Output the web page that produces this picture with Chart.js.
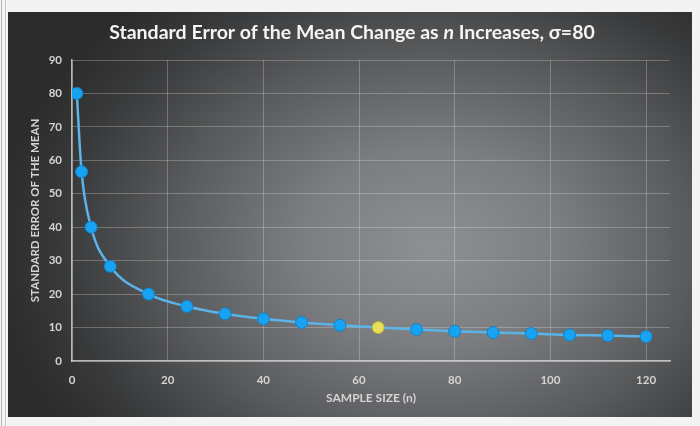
<!DOCTYPE html>
<html>
<head>
<meta charset="utf-8">
<script src="https://cdn.jsdelivr.net/npm/chart.js@4"></script>
<style>
  html, body { margin: 0; padding: 0; width: 700px; height: 426px; overflow: hidden; background: #f3f3f3; }
  #frame { position: absolute; left: 1px; top: 0; width: 3px; height: 426px; border-left: 1px solid #b8b8b8; border-right: 1px solid #c8c8c8; }
  #panel {
    position: absolute; left: 8px; top: 12px; width: 684px; height: 405px;
    background:
      radial-gradient(ellipse 64% 80% at 62% 58%, #8e9194 0%, #7b7d80 30%, #585a5c 60%, #38393a 85%, #2c2c2c 100%);
  }
  canvas { display: block; }
</style>
</head>
<body>
<div id="frame"></div>
<div id="panel"><canvas id="c" width="684" height="405"></canvas></div>
<script>
// ---- data ----
const sampleSizes = [1, 2, 4, 8, 16, 24, 32, 40, 48, 56, 64, 72, 80, 88, 96, 104, 112, 120];
const standardErrors = [80, 56.6, 40, 28.3, 20, 16.3, 14.1, 12.6, 11.5, 10.7, 10, 9.4, 8.9, 8.5, 8.2, 7.8, 7.6, 7.3];
const highlightedN = 64;
const titleParts = [
  { text: "Standard Error of the Mean Change as ", italic: false },
  { text: "n", italic: true },
  { text: " Increases, \u03c3=80", italic: false }
];
const xAxisTitle = "SAMPLE SIZE (n)";
const yAxisTitle = "STANDARD ERROR OF THE MEAN";

const points = sampleSizes.map((n, i) => ({ x: n, y: standardErrors[i] }));
const pointFill = sampleSizes.map(n => n === highlightedN ? "#e6df5a" : "#18a2f2");
const pointBorder = sampleSizes.map(n => n === highlightedN ? "#b9b23a" : "#0f84c8");

const titlePlugin = {
  id: "mixedTitle",
  afterDraw(chart) {
    const ctx = chart.ctx;
    ctx.save();
    ctx.fillStyle = "#f4f4f4";
    ctx.textBaseline = "middle";
    const fam = "Lato, 'Open Sans', sans-serif";
    const fonts = titleParts.map(p => (p.italic ? "italic " : "") + "bold 19.5px " + fam);
    let total = 0;
    const widths = titleParts.map((p, i) => { ctx.font = fonts[i]; const w = ctx.measureText(p.text).width; total += w; return w; });
    let x = chart.width / 2 - total / 2 + 2;
    titleParts.forEach((p, i) => {
      ctx.font = fonts[i];
      ctx.fillText(p.text, x, 21);
      x += widths[i];
    });
    ctx.restore();
  }
};

const tickColor = "#d4d4d4";
const gridColor = "rgba(235,235,235,0.28)";
const labelFont = { family: "Lato, sans-serif", size: 11.5, weight: "bold" };

new Chart(document.getElementById("c"), {
  type: "line",
  data: {
    datasets: [{
      data: points,
      borderColor: "#5cb3ea",
      borderWidth: 2.5,
      cubicInterpolationMode: "monotone",
      pointRadius: 6,
      pointHoverRadius: 6,
      pointBackgroundColor: pointFill,
      pointBorderColor: pointBorder,
      pointBorderWidth: 1,
      fill: false
    }]
  },
  options: {
    responsive: false,
    animation: false,
    layout: { padding: { left: 0, right: 22, top: 48, bottom: 0 } },
    plugins: { legend: { display: false }, tooltip: { enabled: false }, title: { display: false } },
    scales: {
      x: {
        type: "linear",
        min: 0, max: 125,
        afterFit(scale) { scale.height = 56; },
        ticks: { stepSize: 20, includeBounds: false, color: tickColor, padding: 12, font: labelFont },
        grid: { color: gridColor, drawTicks: false, lineWidth: 1 },
        border: { color: "rgba(225,225,225,0.75)", width: 1.5 },
        title: { display: true, text: xAxisTitle, color: tickColor, padding: { top: 0, bottom: 12 }, font: { family: "Lato, sans-serif", size: 12, weight: "bold" } }
      },
      y: {
        min: 0, max: 90,
        afterFit(scale) { scale.width = 64; },
        ticks: { stepSize: 10, color: tickColor, padding: 10, font: labelFont },
        grid: { color: gridColor, drawTicks: false, lineWidth: 1 },
        border: { color: "rgba(225,225,225,0.75)", width: 1.5 },
        title: { display: true, text: yAxisTitle, color: tickColor, padding: { top: 20, bottom: 0 }, font: { family: "Lato, sans-serif", size: 11.5, weight: "bold" } }
      }
    }
  },
  plugins: [titlePlugin]
});
</script>
</body>
</html>
